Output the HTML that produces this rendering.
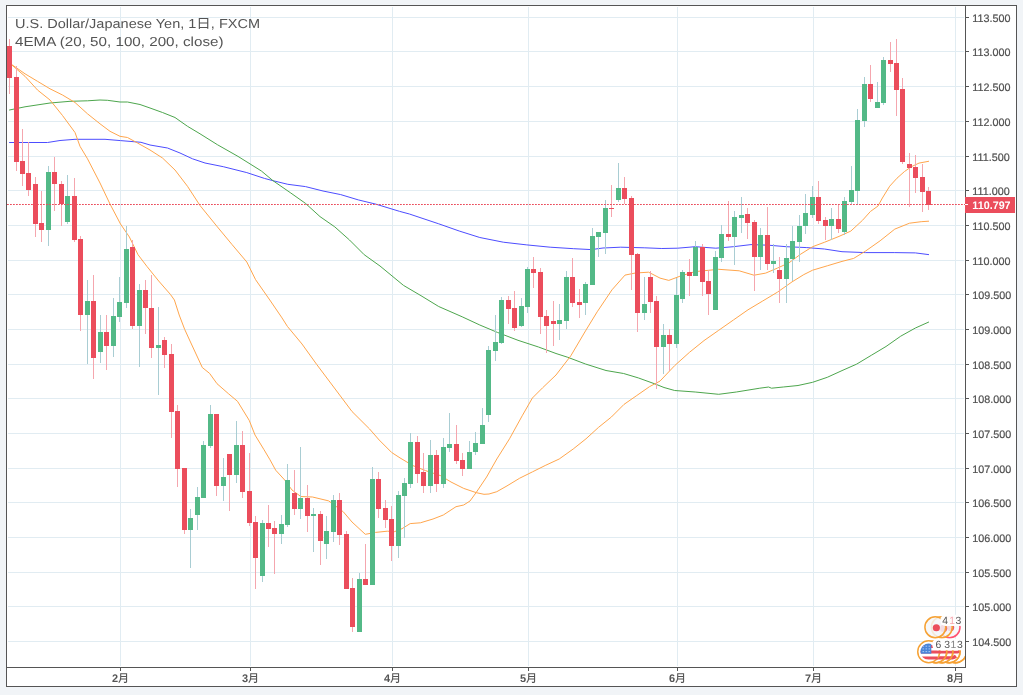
<!DOCTYPE html>
<html><head><meta charset="utf-8"><title>USDJPY</title>
<style>
html,body{margin:0;padding:0;background:#f1f4f7;}
body{width:1023px;height:695px;overflow:hidden;position:relative;font-family:"Liberation Sans","Noto Sans CJK JP",sans-serif;}
svg{position:absolute;left:0;top:0;display:block}
text{font-family:"Liberation Sans","Noto Sans CJK JP",sans-serif;text-rendering:geometricPrecision;}
</style></head><body>
<svg width="1023" height="695" viewBox="0 0 1023 695">

<rect x="6.5" y="5.5" width="1010" height="681" fill="#ffffff" stroke="#555555" stroke-width="1"/>
<path d="M8 17.5H964 M8 51.5H964 M8 86.5H964 M8 121.5H964 M8 156.5H964 M8 190.5H964 M8 225.5H964 M8 260.5H964 M8 294.5H964 M8 329.5H964 M8 364.5H964 M8 398.5H964 M8 433.5H964 M8 468.5H964 M8 502.5H964 M8 537.5H964 M8 572.5H964 M8 606.5H964 M8 641.5H964 M120.5 7V666 M250.5 7V666 M392.5 7V666 M528.5 7V666 M677.5 7V666 M813.5 7V666 M955.5 7V666" stroke="#e1ecf2" stroke-width="1" fill="none" shape-rendering="crispEdges"/>
<path d="M9.5 142.5 L47.5 142.5 L60.0 140.5 L75.0 139.3 L105.0 139.3 L120.5 140.6 L141.0 142.3 L150.0 145.0 L167.5 148.0 L180.0 153.0 L192.5 158.8 L205.0 163.0 L223.3 166.7 L246.8 172.6 L264.4 178.4 L273.0 180.7 L287.8 184.3 L305.5 186.6 L323.0 191.0 L340.7 194.6 L358.3 199.9 L376.0 204.2 L399.4 211.3 L409.4 214.0 L438.7 223.8 L459.2 231.0 L479.8 237.5 L503.3 242.2 L526.8 244.9 L550.2 247.2 L573.7 248.7 L591.3 249.6 L603.0 248.0 L620.7 247.2 L644.2 247.8 L661.8 248.5 L677.6 248.2 L695.2 246.7 L715.8 248.2 L733.4 246.7 L751.0 244.6 L768.6 245.2 L786.2 246.7 L806.8 247.6 L824.4 249.0 L842.0 251.7 L865.5 252.6 L894.8 252.6 L915.4 252.9 L928.6 254.6" stroke="#4d4dff" stroke-width="1" fill="none" stroke-linejoin="round" stroke-linecap="round"/>
<path d="M9.5 110.0 L25.0 106.8 L50.0 103.0 L70.0 101.3 L87.5 100.8 L100.0 100.0 L107.5 100.3 L120.0 102.0 L127.5 102.0 L140.0 104.5 L150.0 108.0 L162.5 112.5 L175.0 117.5 L187.5 126.3 L200.0 133.8 L217.4 144.7 L238.0 156.4 L261.4 171.0 L273.0 180.7 L290.8 193.0 L305.5 203.4 L320.0 216.6 L334.8 226.9 L349.5 240.0 L364.2 254.7 L380.0 266.0 L403.5 285.4 L421.0 295.7 L438.7 306.5 L462.2 316.8 L479.8 325.0 L497.4 332.4 L518.0 340.3 L538.5 347.0 L556.0 353.5 L567.8 357.3 L585.5 364.0 L606.0 370.5 L623.6 373.5 L638.3 377.9 L656.0 384.3 L664.0 387.5 L674.7 390.5 L695.2 392.0 L718.7 394.3 L736.3 392.0 L759.8 388.2 L768.6 387.0 L771.5 388.2 L783.3 387.0 L798.0 385.5 L812.6 382.3 L827.3 377.3 L842.0 370.6 L856.7 364.1 L871.3 355.3 L886.0 346.5 L900.7 336.2 L915.4 328.0 L928.6 322.1" stroke="#4da64d" stroke-width="1" fill="none" stroke-linejoin="round" stroke-linecap="round"/>
<path d="M9.5 63.0 L25.0 73.8 L37.5 81.3 L50.0 88.8 L62.5 95.0 L75.0 102.5 L87.5 113.8 L100.0 123.8 L110.0 131.3 L120.0 136.3 L127.5 137.5 L137.5 143.0 L150.0 150.0 L162.5 158.0 L175.0 170.0 L187.5 186.3 L200.0 205.5 L217.4 226.9 L232.0 244.5 L246.8 262.0 L255.6 279.7 L269.8 300.0 L282.0 317.9 L287.4 326.4 L302.0 344.0 L316.8 364.6 L334.4 388.0 L352.0 411.5 L369.6 429.0 L379.2 440.0 L391.7 452.5 L400.0 457.9 L412.7 465.5 L425.5 470.6 L440.7 475.7 L451.0 482.0 L463.7 488.4 L476.4 492.7 L484.0 494.3 L489.0 494.0 L496.8 491.7 L507.0 485.9 L519.7 478.2 L532.4 471.9 L545.2 465.5 L559.2 459.0 L573.2 449.0 L586.0 438.8 L598.6 427.3 L611.4 417.0 L624.0 404.4 L636.8 395.5 L649.6 386.6 L660.0 381.1 L674.7 365.6 L689.4 352.4 L704.0 340.6 L718.7 330.3 L733.4 320.0 L748.0 309.8 L762.7 301.0 L777.4 292.2 L792.0 281.9 L803.8 274.6 L812.6 270.2 L827.3 265.8 L842.0 261.4 L853.7 258.4 L865.5 251.1 L880.1 240.8 L894.8 229.1 L909.5 223.2 L921.2 221.7 L928.6 221.2" stroke="#ffa64d" stroke-width="1" fill="none" stroke-linejoin="round" stroke-linecap="round"/>
<path d="M9.5 63.0 L25.0 76.3 L37.5 90.0 L50.0 100.0 L62.5 115.5 L75.0 132.5 L80.0 146.3 L87.5 158.8 L100.0 183.0 L110.0 204.0 L120.5 224.0 L129.4 237.0 L138.0 254.7 L147.0 266.5 L158.7 281.0 L170.4 294.4 L174.4 300.0 L179.2 315.0 L184.7 329.4 L190.0 341.0 L202.3 367.5 L209.6 373.4 L217.0 383.7 L228.7 393.9 L237.5 401.3 L249.2 420.3 L255.0 435.0 L264.0 449.7 L270.0 459.8 L275.7 470.2 L284.7 480.0 L292.0 490.0 L300.8 496.5 L312.5 497.0 L328.7 500.9 L343.3 511.8 L352.0 522.0 L365.3 534.3 L375.6 532.4 L387.3 531.2 L394.6 531.6 L402.0 528.7 L410.2 523.6 L420.4 522.8 L433.0 519.0 L443.3 515.0 L456.0 506.7 L463.7 505.0 L470.0 501.0 L476.4 492.2 L486.6 477.0 L496.8 459.0 L509.5 438.8 L522.2 415.8 L532.4 398.0 L542.6 387.8 L556.0 375.0 L570.8 355.8 L585.5 330.9 L597.2 311.8 L612.0 289.8 L625.0 275.1 L635.4 273.0 L648.6 272.2 L656.0 276.0 L660.0 278.1 L668.8 280.4 L680.5 276.0 L695.2 271.6 L718.7 269.3 L739.2 270.8 L754.0 275.2 L765.7 273.1 L777.4 268.1 L789.0 262.8 L800.9 254.0 L812.6 246.7 L824.4 242.3 L839.0 236.4 L850.8 231.1 L862.5 220.3 L870.4 211.5 L878.0 206.0 L882.4 198.0 L889.7 186.2 L897.0 178.2 L904.4 171.6 L911.7 166.5 L919.0 163.1 L928.6 161.3" stroke="#ffa64d" stroke-width="1" fill="none" stroke-linejoin="round" stroke-linecap="round"/>
<g shape-rendering="crispEdges"><path d="M48.5 166V246 M67.5 175V224 M87.5 280V364 M100.5 315V363 M113.5 298V357 M119.5 277V322 M126.5 226V308 M139.5 284V367 M158.5 307V395 M190.5 509V568 M197.5 487V530 M203.5 441V498 M210.5 405V448 M223.5 458V501 M236.5 421V483 M262.5 520V582 M281.5 515V544 M287.5 464V527 M300.5 447V519 M313.5 508V552 M326.5 516V559 M333.5 495V542 M359.5 573V632 M372.5 467V585 M398.5 491V558 M404.5 478V538 M410.5 433V488 M430.5 440V493 M443.5 438V488 M449.5 413V452 M469.5 441V469 M475.5 432V455 M482.5 408V444 M488.5 346V422 M495.5 315V361 M501.5 297V344 M521.5 298V327 M527.5 267V313 M559.5 304V340 M566.5 271V329 M585.5 282V315 M592.5 228V285 M598.5 232V257 M605.5 200V254 M618.5 163V202 M644.5 277V320 M663.5 324V374 M676.5 278V348 M682.5 270V303 M695.5 241V276 M715.5 251V310 M721.5 225V262 M734.5 211V265 M741.5 197V233 M760.5 228V270 M773.5 244V273 M786.5 244V303 M792.5 226V281 M799.5 215V262 M805.5 194V234 M812.5 186V218 M831.5 208V240 M844.5 197V235 M851.5 166V204 M857.5 109V205 M864.5 77V127 M877.5 82V108 M883.5 57V105" stroke="#a9cdd3" stroke-width="1" fill="none"/>
<path d="M9.5 39V94 M16.5 66V171 M22.5 129V186 M28.5 142V196 M35.5 177V237 M41.5 191V242 M54.5 157V211 M61.5 181V226 M74.5 178V242 M80.5 236V331 M93.5 275V379 M106.5 315V370 M132.5 240V329 M145.5 280V334 M151.5 275V358 M164.5 337V368 M171.5 344V438 M177.5 405V487 M184.5 468V534 M216.5 414V496 M229.5 454V511 M242.5 431V498 M249.5 453V526 M255.5 516V589 M268.5 505V547 M274.5 521V574 M294.5 470V515 M307.5 485V532 M320.5 511V565 M339.5 493V545 M346.5 531V589 M352.5 578V632 M365.5 544V585 M378.5 472V518 M385.5 500V528 M391.5 506V561 M417.5 436V483 M423.5 453V493 M436.5 450V492 M456.5 425V464 M462.5 453V476 M508.5 296V324 M514.5 291V331 M533.5 257V288 M540.5 268V334 M546.5 310V353 M553.5 301V346 M572.5 258V307 M579.5 289V318 M611.5 185V217 M624.5 177V204 M631.5 196V290 M637.5 253V332 M650.5 271V313 M656.5 296V389 M669.5 329V371 M689.5 259V296 M702.5 244V296 M708.5 270V315 M728.5 201V241 M747.5 208V239 M754.5 220V291 M767.5 207V270 M779.5 257V303 M818.5 181V224 M825.5 217V240 M838.5 205V233 M870.5 65V102 M890.5 42V72 M896.5 39V116 M902.5 78V164 M909.5 153V207 M915.5 155V193 M922.5 164V212 M928.5 187V210" stroke="#f5a6ae" stroke-width="1" fill="none"/>
<path d="M46 172h5V230h-5z M65 196h5V222h-5z M85 301h5V315h-5z M98 332h5V352h-5z M111 316h5V346h-5z M117 302h5V317h-5z M124 249h5V303h-5z M137 290h5V326h-5z M156 345h5V348h-5z M188 518h5V530h-5z M195 497h5V515h-5z M201 445h5V498h-5z M208 414h5V446h-5z M221 477h5V486h-5z M234 445h5V475h-5z M260 523h5V576h-5z M279 524h5V534h-5z M285 480h5V525h-5z M298 498h5V509h-5z M311 514h5V516h-5z M324 531h5V544h-5z M331 500h5V532h-5z M357 579h5V632h-5z M370 479h5V585h-5z M396 495h5V546h-5z M402 483h5V496h-5z M408 442h5V484h-5z M428 455h5V486h-5z M441 447h5V484h-5z M447 444h5V448h-5z M467 452h5V469h-5z M473 443h5V452h-5z M480 425h5V444h-5z M486 350h5V415h-5z M493 342h5V351h-5z M499 300h5V343h-5z M519 306h5V326h-5z M525 269h5V307h-5z M557 320h5V324h-5z M564 277h5V321h-5z M583 284h5V303h-5z M590 236h5V285h-5z M596 232h5V237h-5z M603 208h5V233h-5z M616 188h5V200h-5z M642 304h5V313h-5z M661 335h5V347h-5z M674 295h5V344h-5z M680 272h5V299h-5z M693 247h5V276h-5z M713 257h5V310h-5z M719 234h5V258h-5z M732 217h5V237h-5z M739 215h5V218h-5z M758 235h5V257h-5z M771 261h5V264h-5z M784 258h5V279h-5z M790 241h5V259h-5z M797 226h5V242h-5z M803 213h5V226h-5z M810 197h5V215h-5z M829 219h5V226h-5z M842 201h5V232h-5z M849 190h5V202h-5z M855 120h5V191h-5z M862 84h5V121h-5z M875 102h5V108h-5z M881 60h5V103h-5z" fill="#53b987"/>
<path d="M7 46h5V78h-5z M14 77h5V162h-5z M20 161h5V174h-5z M26 173h5V190h-5z M33 184h5V224h-5z M39 223h5V230h-5z M52 172h5V184h-5z M59 184h5V204h-5z M72 196h5V240h-5z M78 239h5V315h-5z M91 301h5V358h-5z M104 332h5V346h-5z M130 247h5V326h-5z M143 290h5V308h-5z M149 308h5V348h-5z M162 340h5V355h-5z M169 354h5V412h-5z M175 411h5V469h-5z M182 468h5V530h-5z M214 414h5V486h-5z M227 454h5V475h-5z M240 445h5V492h-5z M247 491h5V523h-5z M253 522h5V558h-5z M266 523h5V529h-5z M272 528h5V534h-5z M292 493h5V509h-5z M305 498h5V516h-5z M318 514h5V541h-5z M337 500h5V535h-5z M344 534h5V589h-5z M350 588h5V627h-5z M363 579h5V585h-5z M376 479h5V509h-5z M383 508h5V520h-5z M389 519h5V546h-5z M415 442h5V474h-5z M421 472h5V486h-5z M434 455h5V484h-5z M454 444h5V461h-5z M460 460h5V469h-5z M506 300h5V309h-5z M512 308h5V328h-5z M531 269h5V273h-5z M538 272h5V317h-5z M544 316h5V326h-5z M551 321h5V324h-5z M570 277h5V303h-5z M577 302h5V305h-5z M609 208h5V209h-5z M622 188h5V199h-5z M629 198h5V255h-5z M635 254h5V313h-5z M648 277h5V302h-5z M654 301h5V347h-5z M667 335h5V344h-5z M687 272h5V276h-5z M700 247h5V282h-5z M706 281h5V294h-5z M726 234h5V237h-5z M745 214h5V223h-5z M752 222h5V257h-5z M765 235h5V264h-5z M777 270h5V279h-5z M816 197h5V221h-5z M823 220h5V226h-5z M836 219h5V229h-5z M868 84h5V99h-5z M888 60h5V64h-5z M894 63h5V90h-5z M900 89h5V162h-5z M907 164h5V168h-5z M913 167h5V178h-5z M920 177h5V192h-5z M926 191h5V205h-5z" fill="#eb4d5c"/></g>
<path d="M7 204.5H965" stroke="#eb4d5c" stroke-width="1" stroke-dasharray="1.8 1.2" fill="none"/>
<path d="M965.5 5V668 M6 667.5H966" stroke="#555555" stroke-width="1" fill="none" shape-rendering="crispEdges"/>
<path d="M966 17.5h3 M966 51.5h3 M966 86.5h3 M966 121.5h3 M966 156.5h3 M966 190.5h3 M966 225.5h3 M966 260.5h3 M966 294.5h3 M966 329.5h3 M966 364.5h3 M966 398.5h3 M966 433.5h3 M966 468.5h3 M966 502.5h3 M966 537.5h3 M966 572.5h3 M966 606.5h3 M966 641.5h3 M120.5 668v3 M250.5 668v3 M392.5 668v3 M528.5 668v3 M677.5 668v3 M813.5 668v3 M955.5 668v3" stroke="#555555" stroke-width="1" fill="none" shape-rendering="crispEdges"/>
<text transform="translate(972.3 21.5) skewX(0.1)" font-size="10.8" fill="#505050" stroke="#505050" stroke-width="0.2">113.500</text>
<text transform="translate(972.3 55.5) skewX(0.1)" font-size="10.8" fill="#505050" stroke="#505050" stroke-width="0.2">113.000</text>
<text transform="translate(972.3 90.5) skewX(0.1)" font-size="10.8" fill="#505050" stroke="#505050" stroke-width="0.2">112.500</text>
<text transform="translate(972.3 125.5) skewX(0.1)" font-size="10.8" fill="#505050" stroke="#505050" stroke-width="0.2">112.000</text>
<text transform="translate(972.3 160.5) skewX(0.1)" font-size="10.8" fill="#505050" stroke="#505050" stroke-width="0.2">111.500</text>
<text transform="translate(972.3 194.5) skewX(0.1)" font-size="10.8" fill="#505050" stroke="#505050" stroke-width="0.2">111.000</text>
<text transform="translate(972.3 229.5) skewX(0.1)" font-size="10.8" fill="#505050" stroke="#505050" stroke-width="0.2">110.500</text>
<text transform="translate(972.3 264.5) skewX(0.1)" font-size="10.8" fill="#505050" stroke="#505050" stroke-width="0.2">110.000</text>
<text transform="translate(972.3 298.5) skewX(0.1)" font-size="10.8" fill="#505050" stroke="#505050" stroke-width="0.2">109.500</text>
<text transform="translate(972.3 333.5) skewX(0.1)" font-size="10.8" fill="#505050" stroke="#505050" stroke-width="0.2">109.000</text>
<text transform="translate(972.3 368.5) skewX(0.1)" font-size="10.8" fill="#505050" stroke="#505050" stroke-width="0.2">108.500</text>
<text transform="translate(972.3 402.5) skewX(0.1)" font-size="10.8" fill="#505050" stroke="#505050" stroke-width="0.2">108.000</text>
<text transform="translate(972.3 437.5) skewX(0.1)" font-size="10.8" fill="#505050" stroke="#505050" stroke-width="0.2">107.500</text>
<text transform="translate(972.3 472.5) skewX(0.1)" font-size="10.8" fill="#505050" stroke="#505050" stroke-width="0.2">107.000</text>
<text transform="translate(972.3 506.5) skewX(0.1)" font-size="10.8" fill="#505050" stroke="#505050" stroke-width="0.2">106.500</text>
<text transform="translate(972.3 541.5) skewX(0.1)" font-size="10.8" fill="#505050" stroke="#505050" stroke-width="0.2">106.000</text>
<text transform="translate(972.3 576.5) skewX(0.1)" font-size="10.8" fill="#505050" stroke="#505050" stroke-width="0.2">105.500</text>
<text transform="translate(972.3 610.5) skewX(0.1)" font-size="10.8" fill="#505050" stroke="#505050" stroke-width="0.2">105.000</text>
<text transform="translate(972.3 645.5) skewX(0.1)" font-size="10.8" fill="#505050" stroke="#505050" stroke-width="0.2">104.500</text>
<rect x="965" y="197" width="50" height="16" fill="#eb4d5c"/>
<path d="M965 204.5h3" stroke="#ffffff" stroke-width="1" shape-rendering="crispEdges"/>
<text transform="translate(972.3 208.5) skewX(0.1)" font-size="11" font-weight="bold" fill="#ffffff" textLength="38.3" lengthAdjust="spacingAndGlyphs">110.797</text>
<text transform="translate(120.5 682) skewX(0.1)" font-size="11" font-weight="bold" fill="#555555" text-anchor="middle">2<tspan font-weight="500" font-family="Noto Sans CJK JP">月</tspan></text>
<text transform="translate(250.5 682) skewX(0.1)" font-size="11" font-weight="bold" fill="#555555" text-anchor="middle">3<tspan font-weight="500" font-family="Noto Sans CJK JP">月</tspan></text>
<text transform="translate(392.5 682) skewX(0.1)" font-size="11" font-weight="bold" fill="#555555" text-anchor="middle">4<tspan font-weight="500" font-family="Noto Sans CJK JP">月</tspan></text>
<text transform="translate(528.5 682) skewX(0.1)" font-size="11" font-weight="bold" fill="#555555" text-anchor="middle">5<tspan font-weight="500" font-family="Noto Sans CJK JP">月</tspan></text>
<text transform="translate(677.5 682) skewX(0.1)" font-size="11" font-weight="bold" fill="#555555" text-anchor="middle">6<tspan font-weight="500" font-family="Noto Sans CJK JP">月</tspan></text>
<text transform="translate(813.5 682) skewX(0.1)" font-size="11" font-weight="bold" fill="#555555" text-anchor="middle">7<tspan font-weight="500" font-family="Noto Sans CJK JP">月</tspan></text>
<text transform="translate(955.5 682) skewX(0.1)" font-size="11" font-weight="bold" fill="#555555" text-anchor="middle">8<tspan font-weight="500" font-family="Noto Sans CJK JP">月</tspan></text>
<text x="15" y="28" font-size="13" fill="#555555" textLength="245" lengthAdjust="spacingAndGlyphs">U.S. Dollar/Japanese Yen, 1日, FXCM</text>
<text x="15" y="45.5" font-size="13" fill="#555555" textLength="208.5" lengthAdjust="spacingAndGlyphs">4EMA (20, 50, 100, 200, close)</text>
<clipPath id="pane"><rect x="7" y="6" width="958" height="661"/></clipPath>
<g clip-path="url(#pane)">
<circle cx="949.6" cy="627.25" r="10.4" fill="#f7f8fb" stroke="#ff5271" stroke-width="1.5"/>
<circle cx="950.6" cy="627.55" r="3.6" fill="#eb4d5c" opacity="0.9"/>
<circle cx="941.8" cy="627.25" r="10.4" fill="#f4f6fa" fill-opacity="0.8" stroke="#f6a235" stroke-width="1.5"/>
<circle cx="943.6" cy="628.45" r="3.6" fill="#eb4d5c" opacity="0.85"/>
<circle cx="935.3" cy="627.25" r="10.4" fill="#f4f6fa" fill-opacity="0.82" stroke="#f6a235" stroke-width="1.5"/>
<circle cx="936.35" cy="627.75" r="3.6" fill="#eb4d5c"/>
<circle cx="955.5" cy="651.8" r="10.95" fill="#ffffff" stroke="#f6a235" stroke-width="1.5"/>
<circle cx="949.05" cy="651.8" r="10.95" fill="#ffffff" stroke="#f6a235" stroke-width="1.5"/>
<circle cx="941.9" cy="651.8" r="10.95" fill="#ffffff" stroke="#f6a235" stroke-width="1.5"/>
<circle cx="935.8" cy="651.8" r="10.95" fill="#ffffff" stroke="#f6a235" stroke-width="1.5"/>
<path d="M931 652.1H957.5q1.5 0 2.2 -1.4" stroke="#eb4d5c" stroke-width="2.9" fill="none"/>
<path d="M923 657.85H952q2.6 -0.6 4 -1.7" stroke="#eb4d5c" stroke-width="3.4" fill="none"/>
<path d="M966.10 649a10.95 10.95 0 0 1 -14.5 13.1" fill="none" stroke="#f6a235" stroke-width="1.5"/>
<path d="M959.65 649a10.95 10.95 0 0 1 -14.5 13.1" fill="none" stroke="#f6a235" stroke-width="1.5"/>
<path d="M952.50 649a10.95 10.95 0 0 1 -14.5 13.1" fill="none" stroke="#f6a235" stroke-width="1.5"/>
<path d="M946.40 649a10.95 10.95 0 0 1 -14.5 13.1" fill="none" stroke="#f6a235" stroke-width="1.5"/>
<clipPath id="uc0"><circle cx="928.7" cy="651.8" r="8.2"/><rect x="928.7" y="650" width="12" height="6"/><rect x="928.7" y="656" width="9" height="4"/></clipPath>
<circle cx="928.7" cy="651.8" r="10.95" fill="#ffffff" stroke="#f6a235" stroke-width="1.5"/>
<g clip-path="url(#uc0)"><path d="M918 652.1h24M918 657.9h24M918 646.6h24" stroke="#eb4d5c" stroke-width="3"/><rect x="918" y="641" width="13.3" height="12.7" fill="#4a84d9"/><path d="M922.5 646.2h9M922.5 648.9h9M922.5 651.6h9" stroke="#a9c8f3" stroke-width="1" stroke-dasharray="1.6 1.4"/></g>
<rect x="932.3" y="638.8" width="33" height="11.4" rx="5" fill="#ffffff"/>
<rect x="940.3" y="614.8" width="25" height="11.2" rx="5" fill="#ffffff" fill-opacity="0.96"/>
<text transform="translate(942.3 623.8) skewX(0.1)" font-size="10.4" fill="#555555" opacity="1">4</text><text transform="translate(955.6 623.8) skewX(0.1)" font-size="10.4" fill="#555555" opacity="1">3</text><text transform="translate(949.3 623.8) skewX(0.1)" font-size="10.4" fill="#f0606e" opacity="0.55">1</text>
<text transform="translate(935.4 647.8) skewX(0.1)" font-size="10.4" fill="#555555" opacity="1">6</text><text transform="translate(944.2 647.8) skewX(0.1)" font-size="10.4" fill="#555555" opacity="1">3</text><text transform="translate(950.4 647.8) skewX(0.1)" font-size="10.4" fill="#666666" opacity="0.8">1</text><text transform="translate(957.0 647.8) skewX(0.1)" font-size="10.4" fill="#555555" opacity="1">3</text>
</g>
</svg></body></html>
